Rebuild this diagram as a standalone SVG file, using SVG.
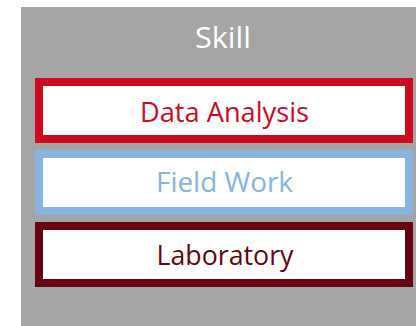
<svg xmlns="http://www.w3.org/2000/svg" width="416" height="326" viewBox="0 0 416 326">
<style>
.box{fill:#FFFFFF;stroke-width:8}
.lbl{font-family:"Open Sans","Liberation Sans",sans-serif;font-size:27px;text-anchor:middle}
</style>
<rect width="416" height="326" fill="#FFFFFF"/>
<g id="skill">
<rect x="21" y="7" width="395" height="319" fill="#A5A5A5"/>
<text class="lbl" x="223" y="48.3" fill="#FFFFFF" style="font-size:30px" textLength="56" lengthAdjust="spacingAndGlyphs">Skill</text>
</g>
<g id="data-analysis">
<rect class="box" x="39" y="82" width="370" height="57" stroke="#D0091E"/>
<text class="lbl" x="224.5" y="121.7" fill="#D0091E" textLength="169" lengthAdjust="spacingAndGlyphs">Data Analysis</text>
</g>
<g id="field-work">
<rect class="box" x="39" y="154" width="370" height="57" stroke="#85B5E0"/>
<text class="lbl" x="224.5" y="192.3" fill="#85B5E0" textLength="137" lengthAdjust="spacingAndGlyphs">Field Work</text>
</g>
<g id="laboratory">
<rect class="box" x="39" y="226" width="370" height="57" stroke="#680411"/>
<text class="lbl" x="225" y="265" fill="#680411" textLength="137" lengthAdjust="spacingAndGlyphs">Laboratory</text>
</g>
<g id="connectors"></g>
</svg>
